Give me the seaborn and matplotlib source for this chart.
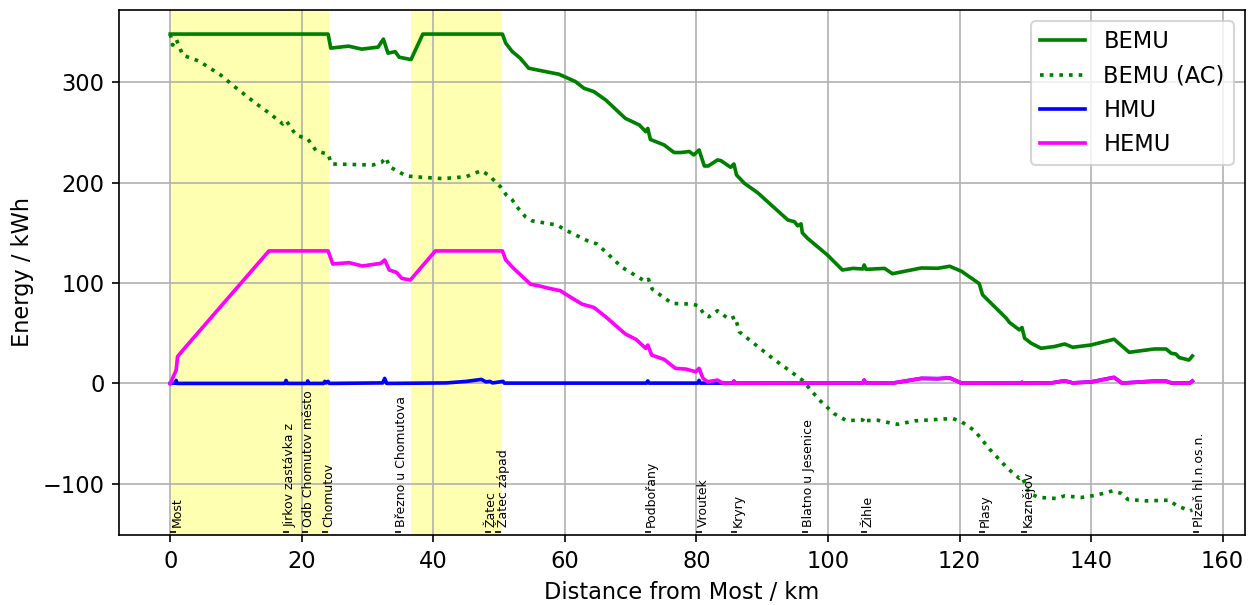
import matplotlib
matplotlib.use("Agg")
import matplotlib.pyplot as plt
import seaborn as sns

# ---- data ----
bemu_km = [0, 24.0, 24.4, 27.1, 29.1, 31.6, 32.4, 33.1, 34.2, 34.8, 36.6, 38.4, 50.5, 51.0, 52.0,
           53.2, 54.5, 56.0, 59.1, 61.6, 62.9, 64.4, 66.2, 69.2, 71.3, 72.3, 72.6, 73.0, 75.1, 76.6,
           77.6, 78.9, 79.6, 80.4, 81.2, 81.8, 83.2, 83.7, 85.2, 85.7, 86.1, 87.3, 89.3, 93.9, 94.9,
           95.4, 95.9, 96.1, 96.9, 99.9, 102.2, 103.8, 105.3, 105.5, 105.8, 108.6, 109.8, 114.2,
           116.7, 118.5, 120.3, 122.5, 123.0, 123.5, 127.1, 127.6, 129.1, 129.5, 129.9, 130.9,
           132.4, 134.4, 136.0, 137.2, 140.0, 143.5, 145.8, 149.6, 151.4, 152.2, 152.9, 153.4,
           154.9, 155.4]
bemu_kwh = [348, 348, 334, 336, 333, 335, 343, 329, 330.5, 325, 322.6, 348, 348, 339, 330.6,
            324, 314, 312, 308, 300.7, 294, 290.7, 282.4, 264, 257.5, 250.8, 254, 243, 237.5, 230,
            230, 231, 227.6, 232.6, 216.6, 216.6, 222.6, 222, 215.3, 218.6, 207.6, 199.3, 190, 162.8, 161.1,
            157, 159, 150, 144.5, 128, 113, 114.6, 114, 118, 113.6, 114.6, 109.3, 115,
            114.7, 116.7, 111.7, 101.7, 99.3, 88.3, 65, 60.7, 53.3, 55.7, 45, 40,
            35, 36.7, 39.3, 36, 38.3, 44, 31, 34.3, 34.3, 30, 29.3, 25.7,
            23.3, 27.3]

bemu_ac_km = [0, 0.35, 0.9, 1.9, 4.4, 7.7, 9.7, 13.0, 15.1, 17.1, 17.6, 19.1, 20.9, 22.2, 23.6,
              24.0, 24.5, 30.8, 32.1, 32.8, 33.3, 35.9, 38.4, 41.5, 45.0, 47.3, 48.6, 49.1, 50.2,
              51.1, 52.0, 52.9, 54.0, 55.0, 58.8, 60.1, 63.7, 64.9, 68.7, 72.3, 72.7, 73.3, 76.3,
              79.4, 80.4, 81.2, 81.9, 83.2, 85.0, 85.9, 86.5, 91.6, 94.6, 96.1, 98.7, 100.9, 102.8,
              105.3, 105.5, 105.7, 107.6, 109.4, 110.6, 113.2, 117.5, 119.0, 120.3, 122.3, 124.6,
              127.3, 129.1, 129.5, 130.6, 132.1, 134.7, 136.0, 138.5, 140.8, 143.3, 144.6, 145.6,
              148.4, 151.9, 152.9, 155.0, 155.4]
bemu_ac_kwh = [348, 337, 343, 327, 321, 307, 296, 279, 269, 258.5, 262, 247.5, 243.5, 231.6, 229,
               228.5, 218.6, 217.6, 220, 225, 216, 206.6, 205.3, 204, 206, 212, 206.6, 203, 196,
               187.6, 182.7, 174.4, 166, 162, 157.8, 152.8, 141.2, 138.9, 115.6, 101.3, 103.7, 93.7, 79.7,
               79, 77.1, 68.1, 66.4, 72.4, 63.8, 66.4, 51.5, 24.9, 10.6, 3.3, -16.6, -30, -37,
               -36.5, -34, -37, -36.7, -39.3, -40.7, -37.3, -35.5, -35, -38.2, -47.1, -65.7,
               -84.6, -94.6, -93, -109.6, -113.6, -114.6, -112, -113.6, -111.3, -107, -109.6, -115.6,
               -117, -116.3, -121.3, -127, -126]

hmu_km = [0, 0.8, 0.9, 1.0, 17.4, 17.6, 17.8, 20.8, 20.9, 21.0, 23.3, 23.5, 23.7, 24.0, 24.2,
          32.3, 32.6, 32.9, 42.0, 45.0, 47.3, 48.0, 48.6, 49.0, 50.6, 50.8, 72.4, 72.6, 72.8,
          80.2, 80.4, 80.6, 85.6, 85.7, 85.9, 105.3, 105.5, 105.7, 110.0, 114.2, 116.7, 118.5,
          120.3, 134.0, 136.0, 137.2, 140.0, 143.5, 144.7, 149.6, 151.4, 152.2, 155.0, 155.4]
hmu_kwh = [0, 0.3, 3, 0, 0, 3, 0, 0, 2.5, 0, 0, 2, 0.5, 2, 0,
           0.5, 5, 0, 0.5, 2, 4, 1.5, 2, 0.5, 2, 0.3, 0.3, 2.5, 0.3,
           0.3, 3, 0.3, 0.3, 2.3, 0.3, 0.5, 3.3, 0.5, 0.5, 5, 4.7, 5.5,
           0.3, 0.5, 2.7, 0.5, 1.5, 6, 0.3, 2.3, 2.3, 0.5, 0.3, 2.3]

hemu_km = [0, 0.9, 1.1, 1.9, 15.0, 24.0, 24.7, 27.2, 29.2, 32.0, 32.6, 33.3, 34.4, 35.2, 36.5,
           40.3, 50.5, 51.0, 52.2, 54.8, 56.0, 57.6, 59.3, 60.1, 62.6, 64.4, 66.2, 69.2, 70.8,
           72.3, 72.6, 73.2, 75.1, 76.8, 78.4, 79.9, 80.4, 81.0, 81.7, 83.2, 84.0, 85.6, 85.7,
           85.9, 105.3, 105.5, 105.7, 110.0, 114.2, 116.7, 118.5, 120.3, 129.4, 129.5, 129.6,
           134.0, 136.0, 137.2, 140.0, 143.5, 144.7, 149.6, 151.4, 152.2, 155.0, 155.4]
hemu_kwh = [0, 13.3, 26.6, 33, 132, 132, 119, 120.3, 117, 119.6, 123, 113, 110.6, 104.6, 103,
            132, 132, 123, 114.6, 98.7, 97.3, 94.7, 92.4, 89, 79, 75.7, 66.4, 49.2, 43.9,
            34.9, 38.2, 28.2, 23.9, 15, 14.3, 11.6, 15, 5, 1.7, 3.3, 0.3, 0.5, 2.3,
            0.3, 0.5, 3.3, 0.5, 0.5, 5, 4.7, 5.5, 0.3, 0.5, 1.5, 0.3,
            0.5, 2.7, 0.5, 1.5, 6, 0.3, 2.3, 2.3, 0.5, 0.3, 2.3]

station_names = ["Most", "Jirkov zastávka z", "Odb Chomutov město", "Chomutov",
                 "Březno u Chomutova", "Žatec", "Žatec západ", "Podbořany", "Vroutek",
                 "Kryry", "Blatno u Jesenice", "Žihle", "Plasy", "Kaznějov", "Plzeň hl.n.os.n."]
station_km = [0.0, 17.2, 20.1, 23.1, 34.2, 47.8, 49.4, 72.2, 80.0, 85.3, 96.0, 105.1,
              123.0, 129.4, 155.5]

electrified = [(0.0, 24.2), (36.6, 50.5)]

# ---- figure ----
plt.rcParams["font.size"] = 10.8
fig = plt.figure(figsize=(1255 / 150, 605 / 150), dpi=150)
ax = fig.add_axes([0.0948, 0.1157, 0.8972, 0.8678])

for a, b in electrified:
    ax.axvspan(a, b, color="yellow", alpha=0.3, lw=0)

LW = 1.75
sns.lineplot(x=bemu_km, y=bemu_kwh, ax=ax, color="green", lw=LW, label="BEMU",
             sort=False, estimator=None)
sns.lineplot(x=bemu_ac_km, y=bemu_ac_kwh, ax=ax, color="green", lw=LW, linestyle=":",
             label="BEMU (AC)", sort=False, estimator=None)
sns.lineplot(x=hmu_km, y=hmu_kwh, ax=ax, color="blue", lw=LW, label="HMU",
             sort=False, estimator=None)
sns.lineplot(x=hemu_km, y=hemu_kwh, ax=ax, color="magenta", lw=LW, label="HEMU",
             sort=False, estimator=None)

ymin, ymax = -151, 372
ax.set_ylim(ymin, ymax)
ax.set_xlim(-7.8, 163.4)
ax.set_xticks([0, 20, 40, 60, 80, 100, 120, 140, 160])
ax.set_yticks([-100, 0, 100, 200, 300])

for name, km in zip(station_names, station_km):
    ax.text(km, ymin + 7.5, name, rotation=90, fontsize=6, ha="left", va="bottom")
ax.plot([k + 0.45 for k in station_km], [ymin + 3] * len(station_km), ls="",
        marker="_", ms=3, mew=0.8, color="black")

ax.grid(True, color="#b0b0b0", lw=0.8)
ax.set_xlabel("Distance from Most / km")
ax.set_ylabel("Energy / kWh")
ax.legend(loc="upper right")

fig.savefig("out.png", dpi=150)
